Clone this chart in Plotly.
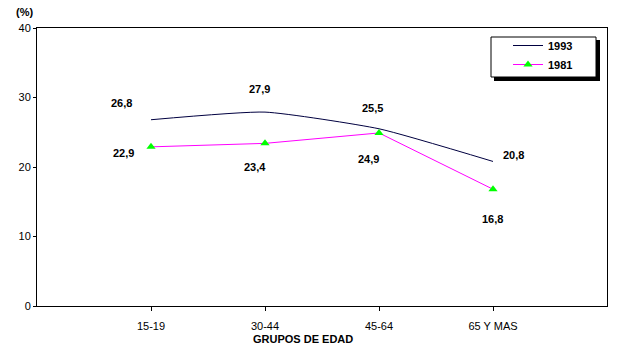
import plotly.graph_objects as go

categories = ["15-19", "30-44", "45-64", "65 Y MAS"]
values_1993 = [26.8, 27.9, 25.5, 20.8]
values_1981 = [22.9, 23.4, 24.9, 16.8]
labels_1993 = ["26,8", "27,9", "25,5", "20,8"]
labels_1981 = ["22,9", "23,4", "24,9", "16,8"]
y_ticks = [0, 10, 20, 30, 40]

xpos = list(range(len(categories)))
FONT = "Liberation Sans, Arial, sans-serif"

fig = go.Figure()
fig.add_trace(go.Scatter(
    x=xpos, y=values_1993, name="<b>1993</b>", mode="lines",
    line=dict(color="#000040", width=1, shape="spline", smoothing=0.5),
))
fig.add_trace(go.Scatter(
    x=xpos, y=values_1981, name="<b>1981</b>", mode="lines+markers",
    line=dict(color="#FF00FF", width=1),
    marker=dict(symbol="triangle-up", size=8, color="#00FF00", line=dict(width=0)),
))

# label offsets in pixels (dx, dy) relative to the data point
off_1993 = [(-30, 17), (-6, 23), (-7, 21), (20, 6)]
off_1981 = [(-28, -6), (-10, -24), (-11, -26), (-1, -30)]
annotations = []
for xs, vals, labs, offs in [(xpos, values_1993, labels_1993, off_1993),
                             (xpos, values_1981, labels_1981, off_1981)]:
    for x, v, t, (dx, dy) in zip(xs, vals, labs, offs):
        annotations.append(dict(
            x=x, y=v, xref="x", yref="y", text="<b>%s</b>" % t, showarrow=False,
            xshift=dx, yshift=dy, font=dict(family=FONT, size=11, color="black"),
        ))

# plot area: x 37..607, y 28..306
L, R, T, B = 37, 607, 28, 306
W, H = R - L, B - T
def px(xp):
    return (xp - L) / W
def py(yp):
    return (B - yp) / H

annotations.append(dict(
    x=px(24.5), y=py(12), xref="paper", yref="paper", text="<b>(%)</b>", showarrow=False,
    xanchor="center", yanchor="middle", font=dict(family=FONT, size=11, color="black"),
))
annotations.append(dict(
    x=px(303), y=py(339), xref="paper", yref="paper", text="<b>GRUPOS DE EDAD</b>", showarrow=False,
    xanchor="center", yanchor="middle", font=dict(family=FONT, size=11, color="black"),
))

shapes = [
    dict(type="rect", xref="paper", yref="paper", x0=px(494), x1=px(600), y0=py(81), y1=py(40),
         fillcolor="black", line=dict(width=0), layer="above"),
    dict(type="rect", xref="paper", yref="paper", x0=px(491), x1=px(596), y0=py(77), y1=py(37),
         fillcolor="white", line=dict(color="black", width=1), layer="above"),
]

fig.update_layout(
    width=641, height=355,
    margin=dict(l=L, r=641 - R, t=T, b=355 - B, pad=0),
    paper_bgcolor="white", plot_bgcolor="white",
    font=dict(family=FONT, size=11, color="black"),
    showlegend=True,
    legend=dict(x=px(508), y=py(31), xanchor="left", yanchor="top",
                bgcolor="rgba(0,0,0,0)", borderwidth=0,
                font=dict(family=FONT, size=11, color="black")),
    annotations=annotations,
    shapes=shapes,
    xaxis=dict(range=[-1, 4], tickvals=xpos, ticktext=categories, showgrid=False, zeroline=False,
               showline=True, linecolor="black", linewidth=1, mirror=True,
               ticks="outside", ticklen=4, tickcolor="black", ticklabelstandoff=6,
               tickfont=dict(family=FONT, size=11)),
    yaxis=dict(range=[0, 40], tickvals=y_ticks, showgrid=False, zeroline=False,
               showline=True, linecolor="black", linewidth=1, mirror=True,
               ticks="outside", ticklen=3, tickcolor="black",
               tickfont=dict(family=FONT, size=11)),
)

fig.write_html("out.html", config={"displayModeBar": False},
               post_script="document.body.style.margin='0';")
